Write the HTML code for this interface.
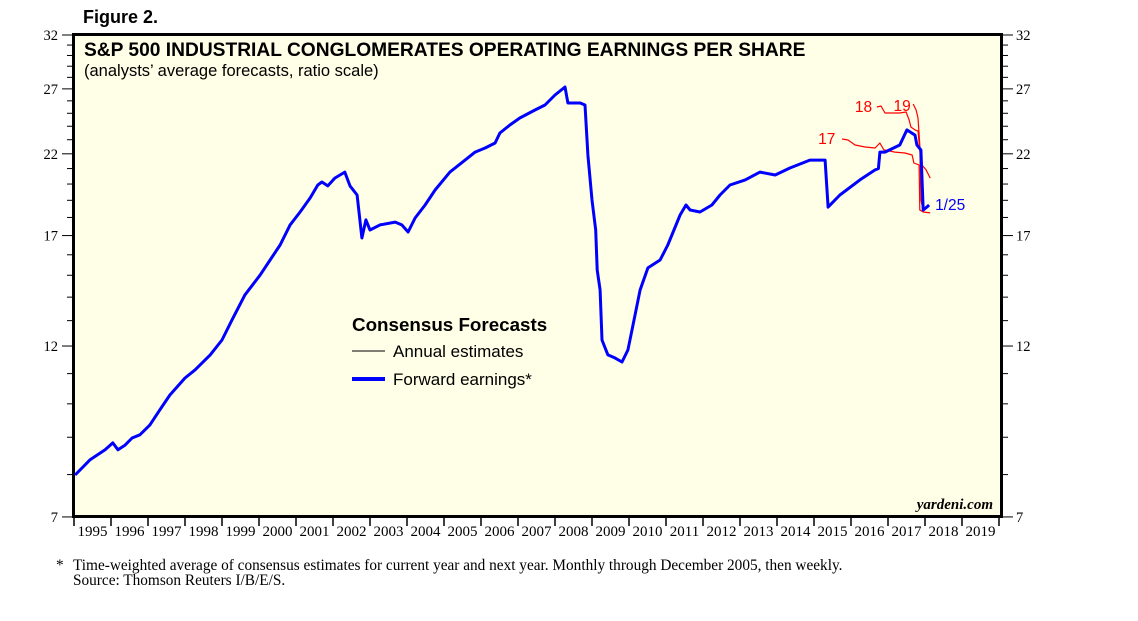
<!DOCTYPE html>
<html><head><meta charset="utf-8"><style>
body{margin:0;background:#fff;width:1138px;height:621px;overflow:hidden}
svg{display:block}
</style></head><body>
<svg id="chart" width="1138" height="621" xmlns="http://www.w3.org/2000/svg">
<text x="83" y="23" font-family="Liberation Sans, sans-serif" font-weight="bold" font-size="18">Figure 2.</text>
<rect x="73.5" y="34.5" width="928" height="482" fill="#fffee6" stroke="#000" stroke-width="3"/>
<text x="84" y="56" font-family="Liberation Sans, sans-serif" font-weight="bold" font-size="19.2">S&amp;P 500 INDUSTRIAL CONGLOMERATES OPERATING EARNINGS PER SHARE</text>
<text x="84" y="76" font-family="Liberation Sans, sans-serif" font-size="16.5">(analysts’ average forecasts, ratio scale)</text>
<g id="axes"></g>
<g id="series"></g>
<text x="352" y="331" font-family="Liberation Sans, sans-serif" font-weight="bold" font-size="18.8">Consensus Forecasts</text>
<line x1="352" y1="351" x2="385" y2="351" stroke="#000" stroke-width="1"/>
<text x="393" y="357" font-family="Liberation Sans, sans-serif" font-size="17">Annual estimates</text>
<line x1="352" y1="379" x2="385" y2="379" stroke="#0000ff" stroke-width="4"/>
<text x="393" y="385" font-family="Liberation Sans, sans-serif" font-size="17">Forward earnings*</text>
<text x="993" y="509" text-anchor="end" font-family="Liberation Serif, serif" font-style="italic" font-weight="bold" font-size="15">yardeni.com</text>
<text x="56" y="570" font-family="Liberation Serif, serif" font-size="15.3">*</text>
<text x="73" y="570" font-family="Liberation Serif, serif" font-size="15.3">Time-weighted average of consensus estimates for current year and next year. Monthly through December 2005, then weekly.</text>
<text x="73" y="585" font-family="Liberation Serif, serif" font-size="15.3">Source: Thomson Reuters I/B/E/S.</text>
</svg>
<script>
const yTicks=[7,12,17,22,27,32];
const years=[1995,1996,1997,1998,1999,2000,2001,2002,2003,2004,2005,2006,2007,2008,2009,2010,2011,2012,2013,2014,2015,2016,2017,2018,2019];
const fwdDates=[1995.03,1995.43,1995.84,1996.05,1996.19,1996.38,1996.57,1996.78,1997.05,1997.32,1997.59,1998.0,1998.27,1998.68,1999.0,1999.27,1999.62,2000.03,2000.3,2000.57,2000.84,2001.11,2001.38,2001.59,2001.7,2001.86,2002.05,2002.32,2002.46,2002.65,2002.78,2002.89,2003.0,2003.27,2003.68,2003.86,2004.03,2004.22,2004.49,2004.76,2005.16,2005.57,2005.84,2006.11,2006.38,2006.51,2006.78,2007.05,2007.46,2007.73,2008.0,2008.27,2008.35,2008.68,2008.81,2008.89,2009.0,2009.1,2009.14,2009.22,2009.27,2009.43,2009.62,2009.81,2009.97,2010.08,2010.3,2010.51,2010.84,2011.05,2011.38,2011.54,2011.65,2011.92,2012.24,2012.46,2012.73,2013.14,2013.54,2013.95,2014.35,2014.89,2015.3,2015.38,2015.7,2016.24,2016.65,2016.74,2016.78,2016.92,2017.32,2017.51,2017.73,2017.78,2017.89,2017.95,2018.05,2018.11];
const fwdValues=[7.99,8.38,8.65,8.84,8.65,8.78,8.98,9.07,9.35,9.81,10.28,10.85,11.13,11.67,12.23,13.03,14.1,15.01,15.74,16.5,17.58,18.31,19.14,19.94,20.13,19.88,20.38,20.77,19.88,19.32,16.87,17.86,17.3,17.58,17.74,17.58,17.19,17.97,18.72,19.63,20.77,21.57,22.12,22.41,22.76,23.49,24.09,24.63,25.26,25.66,26.48,27.16,25.82,25.82,25.66,21.92,19.02,17.3,15.25,14.32,12.23,11.67,11.56,11.41,11.85,12.62,14.32,15.35,15.74,16.5,18.14,18.72,18.43,18.31,18.72,19.32,19.94,20.26,20.77,20.58,21.04,21.57,21.57,18.6,19.32,20.26,20.91,21.0,22.12,22.12,22.62,23.72,23.34,22.62,22.27,18.43,18.6,18.72];
const est17Dates=[2015.76,2015.92,2016.11,2016.38,2016.65,2016.78,2016.89,2017.19,2017.46,2017.65,2017.7,2017.84,2017.86,2017.95,2018.14];
const est17Values=[23.05,22.98,22.62,22.48,22.41,22.76,22.27,22.12,22.06,21.92,21.37,21.24,18.43,18.31,18.26];
const est18Dates=[2016.7,2016.81,2016.92,2017.32,2017.49,2017.57,2017.62,2017.73,2017.81,2017.86,2017.92,2018.03,2018.14];
const est18Values=[25.5,25.58,25.02,25.02,25.1,24.48,23.94,23.72,23.64,22.27,21.24,20.91,20.38];
const est19Dates=[2017.68,2017.76,2017.81,2017.86,2017.89,2017.92];
const est19Values=[25.74,25.26,24.63,22.62,19.02,18.72];

const NS='http://www.w3.org/2000/svg';
const X0=74,YW=37,YT=35,PPL=317.1;
function xs(t){return X0+(t-1995)*YW;}
function ys(v){return YT+Math.log(32/v)*PPL;}
const axes=document.getElementById('axes'),series=document.getElementById('series');
function mk(tag,attrs,parent){const e=document.createElementNS(NS,tag);for(const k in attrs)e.setAttribute(k,attrs[k]);parent.appendChild(e);return e;}
for(let v=7;v<=32;v++){
  const y=ys(v),major=yTicks.includes(v);
  const l=mk('line',{x1:major?62:67,y1:y,x2:72,y2:y,stroke:'#000','stroke-width':1},axes);
  
  
  const r=mk('line',{x1:1003,y1:y,x2:major?1013:1008,y2:y,stroke:'#000','stroke-width':1},axes);
  
  
}
yTicks.forEach(v=>{
  const y=ys(v)+5;
  const a=mk('text',{x:58,y:y,'text-anchor':'end','font-family':'Liberation Serif, serif','font-size':14.5},axes);a.textContent=v;
  
  
  const b=mk('text',{x:1016,y:y,'font-family':'Liberation Serif, serif','font-size':14.5},axes);b.textContent=v;
  
  
});
years.forEach(yr=>{
  const x=xs(yr);
  const t=mk('line',{x1:x,y1:517,x2:x,y2:526,stroke:'#000','stroke-width':1.5},axes);
  
  
  const lb=mk('text',{x:x+YW/2,y:536,'text-anchor':'middle','font-family':'Liberation Serif, serif','font-size':15},axes);lb.textContent=yr;
  
  
});
const lastTick=mk('line',{x1:xs(2020),y1:517,x2:xs(2020),y2:526,stroke:'#000','stroke-width':1.5},axes);


function path(d,v,color,w,name){
  const p=mk('path',{d:d.map((t,i)=>(i?'L':'M')+xs(t).toFixed(1)+' '+ys(v[i]).toFixed(1)).join(''),fill:'none',stroke:color,'stroke-width':w,'stroke-linejoin':'round'},series);
  
  
}
path(est17Dates,est17Values,'#ff0000',1.2,'annual-estimate-2017');
path(est18Dates,est18Values,'#ff0000',1.2,'annual-estimate-2018');
path(est19Dates,est19Values,'#ff0000',1.2,'annual-estimate-2019');
path(fwdDates,fwdValues,'#0000ff',3,'forward-earnings-line');
function lab(txt,t,v,color,name,dx){
  const e=mk('text',{x:xs(t)+dx,y:ys(v)+5,'font-family':'Liberation Sans, sans-serif','font-size':15.5,fill:color},series);e.textContent=txt;
  
  
}
lab('17',est17Dates[0],est17Values[0],'#ff0000','label-2017',-24);
lab('18',est18Dates[0],est18Values[0],'#ff0000','label-2018',-22);
lab('19',2017.5,25.6,'#ff0000','label-2019',-13);
lab('1/25',fwdDates[fwdDates.length-1],fwdValues[fwdValues.length-1],'#0000ff','last-date-label',6);
</script>
</body></html>
